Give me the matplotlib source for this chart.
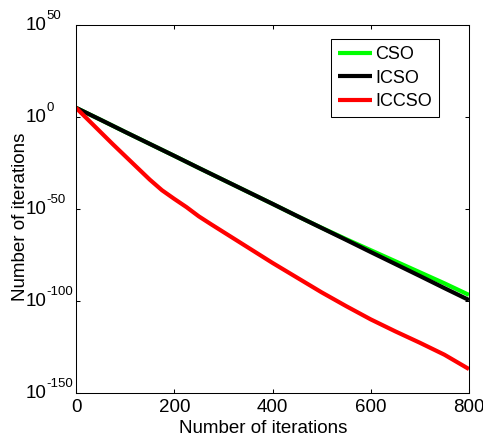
import matplotlib
matplotlib.use("Agg")
import matplotlib.pyplot as plt
import matplotlib.transforms as mtransforms

plt.rcParams['font.family'] = ['Liberation Sans', 'DejaVu Sans']
plt.rcParams['axes.unicode_minus'] = False

# ---- data (log10 of value) ----
iterations = [0, 50, 100, 150, 200, 250, 300, 350, 400, 450, 500, 550, 600, 650, 700, 750, 800]
cso_log = [5, -1.5, -8.1, -14.6, -21.1, -27.7, -34.2, -40.7, -47.2, -53.8, -60.2, -66.4, -72.4, -78.4, -84.4, -90.4, -96.7]
icso_log = [5, -1.5, -8.1, -14.6, -21.1, -27.7, -34.2, -40.7, -47.2, -53.8, -60.3, -66.8, -73.4, -79.9, -86.4, -93.0, -99.5]
iccso_iter = [0, 25, 50, 75, 100, 125, 150, 175, 200, 225, 250, 275, 300, 350, 400, 450, 500, 550, 600, 650, 700, 750, 800]
iccso_log = [5, -1.6, -8.2, -14.8, -21.2, -27.6, -34, -39.8, -44.5, -49, -54, -58.3, -62.5, -70.9, -79.3, -87.3, -95.3, -102.8, -110, -116.5, -122.7, -129.2, -137]
series_labels = ['CSO', 'ICSO', 'ICCSO']
series_colors = ['#00ff00', '#000000', '#ff0000']
xticks = [0, 200, 400, 600, 800]
ytick_exps = [50, 0, -50, -100, -150]

W, H, DPI = 483, 437, 100
fig = plt.figure(figsize=(W / DPI, H / DPI), dpi=DPI)
L, R, T, B = 76, 469, 25, 393
ax = fig.add_axes([L / W, 1 - B / H, (R - L) / W, (B - T) / H])

for xs, ys, lab, col in zip([iterations, iterations, iccso_iter], [cso_log, icso_log, iccso_log],
                            series_labels, series_colors):
    ax.plot(xs, [10.0 ** v for v in ys], color=col, lw=3, label=lab,
            solid_capstyle='butt', solid_joinstyle='round')

ax.set_yscale('log')
ax.set_xlim(0, 800)
ax.set_ylim(1e-150, 1e50)
ax.set_xticks(xticks)
ax.set_xticklabels([str(v) for v in xticks])
ax.set_yticks([10.0 ** e for e in ytick_exps])
ax.set_yticklabels([''] * len(ytick_exps))
ax.yaxis.set_minor_locator(matplotlib.ticker.NullLocator())
ax.tick_params(axis='both', which='both', direction='in', length=3, width=0.75,
               top=True, right=True, labelsize=13.5)
ax.tick_params(axis='x', pad=4)
for s in ax.spines.values():
    s.set_linewidth(0.75)
    s.set_color('black')

# y tick labels drawn as "10" + superscript exponent
base = mtransforms.blended_transform_factory(ax.transAxes, ax.transData)
for e in ytick_exps:
    t1 = base + mtransforms.ScaledTranslation((26 - L) / DPI, -1 / DPI, fig.dpi_scale_trans)
    ax.text(0, 10.0 ** e, '10', transform=t1, ha='left', va='center', fontsize=13.5, clip_on=False)
    t2 = base + mtransforms.ScaledTranslation((46.5 - L) / DPI, 9 / DPI, fig.dpi_scale_trans)
    ax.text(0, 10.0 ** e, str(e), transform=t2, ha='left', va='center', fontsize=9.5, clip_on=False)

fig.text(263 / W, 1 - 433 / H, 'Number of iterations', ha='center', va='baseline', fontsize=13.5)
fig.text(20.5 / W, 1 - 217 / H, 'Number of iterations', ha='center', va='center', rotation=90, fontsize=13.5)

leg = ax.legend(loc='upper right', bbox_to_anchor=((439 - L) / (R - L), 1 - (39 - T) / (B - T)),
                borderaxespad=0, fontsize=13, handlelength=1.9, handletextpad=0.15,
                labelspacing=0.35, borderpad=0.4, fancybox=False, framealpha=1)
leg.get_frame().set_edgecolor('black')
leg.get_frame().set_linewidth(0.75)
for ln in leg.get_lines():
    ln.set_linewidth(3)

fig.savefig('out.png', dpi=DPI)
